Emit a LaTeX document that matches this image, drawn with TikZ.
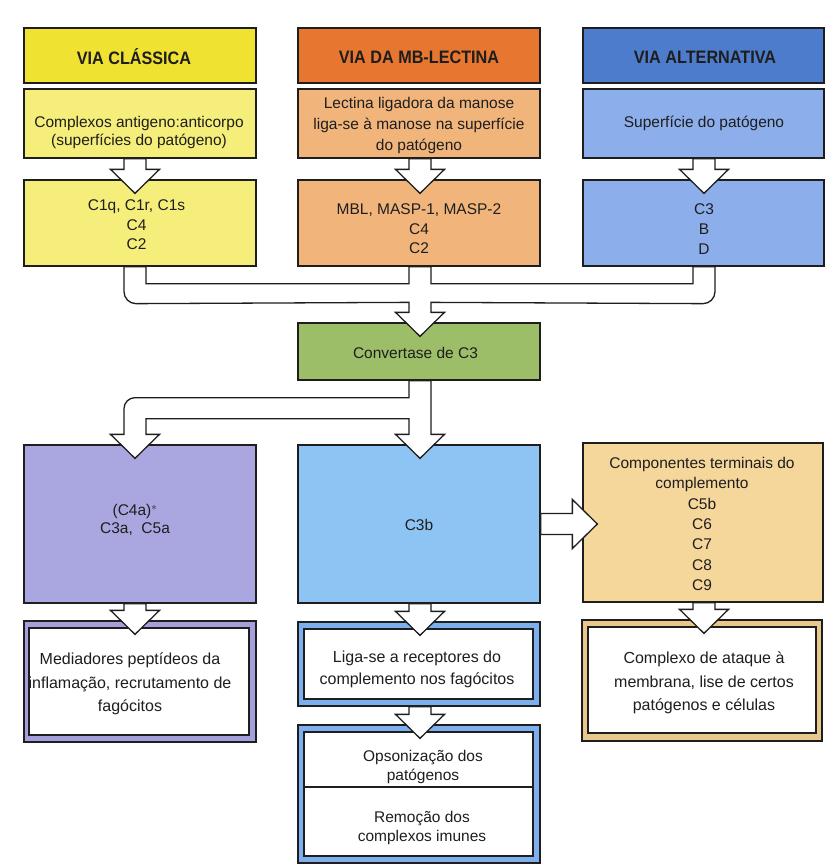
\documentclass[tikz,border=0pt]{standalone}
\usepackage{fontspec}
\setmainfont{Liberation Sans}
\newfontfamily\hdrfont[FakeStretch=0.9]{Liberation Sans}
\usetikzlibrary{calc}
\definecolor{hdrY}{RGB}{240,226,48}
\definecolor{boxY}{RGB}{246,238,122}
\definecolor{hdrO}{RGB}{230,118,48}
\definecolor{boxO}{RGB}{241,181,124}
\definecolor{hdrB}{RGB}{78,124,205}
\definecolor{boxB}{RGB}{140,174,234}
\definecolor{convG}{RGB}{156,190,104}
\definecolor{purp}{RGB}{170,166,224}
\definecolor{sky}{RGB}{142,196,244}
\definecolor{beig}{RGB}{245,214,155}
\definecolor{frP}{RGB}{165,160,220}
\definecolor{frB}{RGB}{125,175,238}
\definecolor{frE}{RGB}{232,200,140}
\definecolor{ink}{RGB}{30,30,30}
\newcommand\bdown[3]{%
  \filldraw[barrow] ($(#3|-#1.south)+(-11,0)$) -- ($(#3|-#2.north)+(-11,10)$)
    -- ($(#3|-#2.north)+(-24.5,10)$) -- ($(#3|-#2.north)+(0,-14)$)
    -- ($(#3|-#2.north)+(24.5,10)$) -- ($(#3|-#2.north)+(11,10)$)
    -- ($(#3|-#1.south)+(11,0)$) -- cycle;}
\begin{document}
\begin{tikzpicture}[x=1pt,y=1pt,
  box/.style={draw=ink, line width=1.3pt, inner sep=0pt},
  txt/.style={align=center, text=ink, inner sep=0pt, font=\fontsize{15.5}{20}\selectfont},
  hdr/.style={align=center, text=ink, inner sep=0pt, font=\hdrfont\bfseries\fontsize{18}{20}\selectfont},
  barrow/.style={draw=ink, line width=1.3pt, fill=white, line join=miter}
]
\useasboundingbox[fill=white] (0,0) rectangle (826,-865);
% axes of the arrows
\coordinate (ax1) at (135,0);
\coordinate (ax2) at (420,0);
\coordinate (ax3) at (704,0);
% headers
\node[box, fill=hdrY, minimum width=232pt, minimum height=55pt] (h1) at (140,-55.5) {};
\node[box, fill=hdrO, minimum width=242pt, minimum height=55pt] (h2) at (419,-55.5) {};
\node[box, fill=hdrB, minimum width=241pt, minimum height=55pt] (h3) at (703.5,-55.5) {};
\node[hdr] (h1t) at (134,-57) {VIA CLÁSSICA};
\node[hdr] (h2t) at (419,-57) {VIA DA MB-LECTINA};
\node[hdr] (h3t) at (705,-57) {VIA ALTERNATIVA};
% second row
\node[box, fill=boxY, minimum width=232pt, minimum height=69pt] (c1a) at (140,-123.5) {};
\node[box, fill=boxO, minimum width=242pt, minimum height=69pt] (c2a) at (419,-123.5) {};
\node[box, fill=boxB, minimum width=241pt, minimum height=69pt] (c3a) at (703.5,-123.5) {};
\node[txt, font=\fontsize{15.5}{18}\selectfont] (c1at) at (139,-132) {Complexos antigeno:anticorpo\\(superfícies do patógeno)};
\node[txt, font=\fontsize{15.5}{21}\selectfont] (c2at) at (419,-125) {Lectina ligadora da manose\\liga-se à manose na superfície\\do patógeno};
\node[txt] (c3at) at (704,-123) {Superfície do patógeno};
% third row
\node[box, fill=boxY, minimum width=232pt, minimum height=86pt] (c1b) at (140,-223) {};
\node[box, fill=boxO, minimum width=242pt, minimum height=86pt] (c2b) at (419,-223) {};
\node[box, fill=boxB, minimum width=241pt, minimum height=86pt] (c3b) at (703.5,-223) {};
\node[txt, font=\fontsize{15.5}{19.5}\selectfont] (c1bt) at (136.5,-225) {C1q, C1r, C1s\\C4\\C2};
\node[txt, font=\fontsize{15.5}{19.5}\selectfont] (c2bt) at (419,-229) {MBL, MASP-1, MASP-2\\C4\\C2};
\node[txt, font=\fontsize{15.5}{20}\selectfont] (c3bt) at (704,-229) {C3\\B\\D};
% convertase
\node[box, fill=convG, minimum width=242pt, minimum height=57pt] (conv) at (419,-351.5) {};
\node[txt] (convt) at (415.5,-353) {Convertase de C3};
% fourth row
\node[box, fill=purp, minimum width=232pt, minimum height=158pt] (pur) at (140,-524) {};
\node[box, fill=sky, minimum width=242pt, minimum height=158pt] (cb) at (419,-524) {};
\node[box, fill=beig, minimum width=240pt, minimum height=159pt] (term) at (703,-522.5) {};
\node[txt, font=\fontsize{15.5}{18}\selectfont] (purt) at (135,-520) {(C4a)$^{*}$\\C3a,\ \ C5a};
\node[txt] (cbt) at (419,-525) {C3b};
\node[txt, font=\fontsize{15.5}{20.3}\selectfont] (termt) at (702,-524) {Componentes terminais do\\complemento\\C5b\\C6\\C7\\C8\\C9};
% bottom boxes
\node[box, fill=frP, minimum width=232pt, minimum height=121pt] (medo) at (140,-681.5) {};
\node[box, fill=white, minimum width=220pt, minimum height=107pt] (medi) at (139,-681.5) {};
\node[txt, font=\fontsize{16}{23.5}\selectfont] (medt) at (130,-684) {Mediadores peptídeos da\\inflamação, recrutamento de\\fagócitos};
\node[box, fill=frB, minimum width=242pt, minimum height=84pt] (ligao) at (419,-664) {};
\node[box, fill=white, minimum width=229pt, minimum height=70pt] (ligai) at (418.5,-664) {};
\node[txt, font=\fontsize{16}{22}\selectfont] (ligat) at (417,-669) {Liga-se a receptores do\\complemento nos fagócitos};
\node[box, fill=frB, minimum width=242pt, minimum height=138pt] (opso) at (419,-794) {};
\node[box, fill=white, minimum width=229pt, minimum height=124pt] (opsi) at (418.5,-794) {};
\draw[ink, line width=1.3pt] ($(opsi.west)+(0,7)$) -- ($(opsi.east)+(0,7)$);
\node[txt, font=\fontsize{15.5}{19}\selectfont] (opst) at (423,-767) {Opsonização dos\\patógenos};
\node[txt, font=\fontsize{15.5}{19}\selectfont] (remt) at (422,-828) {Remoção dos\\complexos imunes};
\node[box, fill=frE, minimum width=240pt, minimum height=121pt] (compo) at (702,-680.5) {};
\node[box, fill=white, minimum width=228pt, minimum height=106pt] (compi) at (702,-680) {};
\node[txt, font=\fontsize{16}{23.5}\selectfont] (compt) at (704,-683) {Complexo de ataque à\\membrana, lise de certos\\patógenos e células};
% straight block arrows
\bdown{c1a}{c1b}{ax1}
\bdown{c2a}{c2b}{ax2}
\bdown{c3a}{c3b}{ax3}
\bdown{pur}{medo}{ax1}
\bdown{cb}{ligao}{ax2}
\bdown{ligao}{opso}{ax2}
\bdown{term}{compo}{ax3}
% merging arrow into the convertase
\filldraw[barrow] ($(ax1|-c1b.south)+(-11,0)$) -- ($(ax1|-c1b.south)+(-11,-25)$)
  arc[start angle=180, end angle=270, radius=12pt]
  -- ($(ax2|-conv.north)+(-11,20)$) -- ($(ax2|-conv.north)+(-11,10)$)
  -- ($(ax2|-conv.north)+(-24.5,10)$) -- ($(ax2|-conv.north)+(0,-14)$)
  -- ($(ax2|-conv.north)+(24.5,10)$) -- ($(ax2|-conv.north)+(11,10)$)
  -- ($(ax2|-conv.north)+(11,20)$) -- ($(ax3|-c3b.south)+(-1,-37)$)
  arc[start angle=270, end angle=360, radius=12pt]
  -- ($(ax3|-c3b.south)+(11,0)$) -- ($(ax3|-c3b.south)+(-11,0)$)
  -- ($(ax3|-c3b.south)+(-11,-17)$) -- ($(ax2|-c2b.south)+(11,-17)$)
  -- ($(ax2|-c2b.south)+(11,0)$) -- ($(ax2|-c2b.south)+(-11,0)$)
  -- ($(ax2|-c2b.south)+(-11,-17)$) -- ($(ax1|-c1b.south)+(11,-17)$)
  -- ($(ax1|-c1b.south)+(11,0)$) -- cycle;
% splitting arrow out of the convertase
\filldraw[barrow] ($(ax2|-conv.south)+(-11,0)$) -- ($(ax2|-conv.south)+(-11,-17)$)
  -- ($(ax1|-conv.south)+(0,-17)$)
  arc[start angle=90, end angle=180, radius=11pt]
  -- ($(ax1|-pur.north)+(-11,10)$) -- ($(ax1|-pur.north)+(-24.5,10)$)
  -- ($(ax1|-pur.north)+(0,-14)$) -- ($(ax1|-pur.north)+(24.5,10)$)
  -- ($(ax1|-pur.north)+(11,10)$) -- ($(ax1|-conv.south)+(11,-38)$)
  -- ($(ax2|-conv.south)+(-11,-38)$) -- ($(ax2|-cb.north)+(-11,10)$)
  -- ($(ax2|-cb.north)+(-24.5,10)$) -- ($(ax2|-cb.north)+(0,-14)$)
  -- ($(ax2|-cb.north)+(24.5,10)$) -- ($(ax2|-cb.north)+(11,10)$)
  -- ($(ax2|-conv.south)+(11,0)$) -- cycle;
% C3b to terminal components
\filldraw[barrow] ($(cb.east)+(0,10.5)$) -- ($(term.west|-cb.east)+(-10,10.5)$)
  -- ($(term.west|-cb.east)+(-10,24.5)$) -- ($(term.west|-cb.east)+(15,0)$)
  -- ($(term.west|-cb.east)+(-10,-24.5)$) -- ($(term.west|-cb.east)+(-10,-10.5)$)
  -- ($(cb.east)+(0,-10.5)$) -- cycle;
\end{tikzpicture}
\end{document}
